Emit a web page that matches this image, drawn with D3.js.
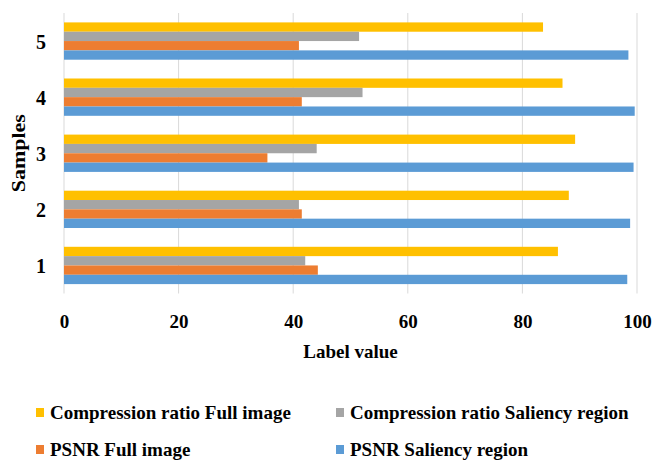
<!DOCTYPE html>
<html>
<head>
<meta charset="utf-8">
<script src="https://cdn.jsdelivr.net/npm/d3@7"></script>
<style>
  html, body { margin: 0; padding: 0; background: #fff; }
  svg { display: block; }
  text { font-family: "Liberation Serif", "Times New Roman", serif; font-weight: bold; fill: #000; }
</style>
</head>
<body>
<svg id="chart" width="665" height="461"></svg>
<script>
// Samples, top to bottom as drawn
const samples = ["5", "4", "3", "2", "1"];

// Series, drawn top to bottom inside each sample group
const seriesNames = [
  "Compression ratio Full image",
  "Compression ratio Saliency region",
  "PSNR Full image",
  "PSNR Saliency region"
];
const seriesColors = ["#FFC000", "#A5A5A5", "#ED7D31", "#5B9BD5"];

// Values per sample, in the order of `samples`
const compressionFull     = [83.6, 87.0, 89.2, 88.1, 86.2];
const compressionSaliency = [51.5, 52.1, 44.1, 41.0, 42.1];
const psnrFull            = [41.0, 41.5, 35.5, 41.5, 44.3];
const psnrSaliency        = [98.5, 99.6, 99.4, 98.8, 98.3];

const xTicks = [0, 20, 40, 60, 80, 100];

const seriesValues = [compressionFull, compressionSaliency, psnrFull, psnrSaliency];

const svg = d3.select("#chart");

const plot = { left: 64, right: 637, top: 13, bottom: 293.5 };

const x = d3.scaleLinear().domain([0, 100]).range([plot.left, plot.right]);

const y = d3.scaleBand()
  .domain(samples)
  .range([plot.top, plot.bottom])
  .paddingInner(0.335)
  .paddingOuter(0.1675);

const ySub = d3.scaleBand()
  .domain(seriesNames)
  .range([0, y.bandwidth()])
  .padding(0);

// Vertical gridlines
svg.append("g")
  .selectAll("line")
  .data(xTicks)
  .join("line")
  .attr("x1", d => x(d)).attr("x2", d => x(d))
  .attr("y1", plot.top).attr("y2", plot.bottom)
  .attr("stroke", "#D9D9D9")
  .attr("stroke-width", 1);

// Bars
const groups = svg.append("g")
  .selectAll("g")
  .data(samples)
  .join("g")
  .attr("transform", d => `translate(0,${y(d)})`);

groups.selectAll("rect")
  .data((d, i) => seriesNames.map((name, s) => ({ name, color: seriesColors[s], value: seriesValues[s][i] })))
  .join("rect")
  .attr("x", x(0))
  .attr("y", d => ySub(d.name))
  .attr("width", d => x(d.value) - x(0))
  .attr("height", ySub.bandwidth())
  .attr("fill", d => d.color);

// X axis tick labels
const xAxis = d3.axisBottom(x).tickValues(xTicks).tickSize(0).tickPadding(0).tickFormat(d3.format("d"));
const gx = svg.append("g")
  .attr("transform", `translate(0,${plot.bottom})`)
  .call(xAxis);
gx.select(".domain").remove();
gx.selectAll("text")
  .attr("y", 34)
  .attr("dy", null)
  .style("font-size", "19px")
  .style("font-family", "'Liberation Serif', serif")
  .style("font-weight", "bold");

// Y axis tick labels
const yAxis = d3.axisLeft(y).tickSize(0).tickPadding(0);
const gy = svg.append("g")
  .attr("transform", `translate(46,0)`)
  .call(yAxis);
gy.select(".domain").remove();
gy.selectAll("text")
  .attr("x", 0)
  .attr("dy", "0.4em")
  .style("font-size", "20px")
  .style("font-family", "'Liberation Serif', serif")
  .style("font-weight", "bold");

// Axis titles
svg.append("text")
  .attr("x", (plot.left + plot.right) / 2)
  .attr("y", 358)
  .attr("text-anchor", "middle")
  .style("font-size", "19px")
  .text("Label value");

svg.append("text")
  .attr("transform", `translate(25,${(plot.top + plot.bottom) / 2}) rotate(-90)`)
  .attr("text-anchor", "middle")
  .attr("textLength", 78)
  .attr("lengthAdjust", "spacingAndGlyphs")
  .style("font-size", "18px")
  .text("Samples");

// Legend (two columns, two rows)
const legendPos = [
  { x: 36, y: 408 },
  { x: 336, y: 408 },
  { x: 36, y: 445 },
  { x: 336, y: 445 }
];
const legend = svg.append("g")
  .selectAll("g")
  .data(seriesNames)
  .join("g")
  .attr("transform", (d, i) => `translate(${legendPos[i].x},${legendPos[i].y})`);

legend.append("rect")
  .attr("width", 8)
  .attr("height", 9)
  .attr("fill", (d, i) => seriesColors[i]);

legend.append("text")
  .attr("x", 14)
  .attr("y", 11)
  .style("font-size", "19px")
  .text(d => d);
</script>
</body>
</html>
